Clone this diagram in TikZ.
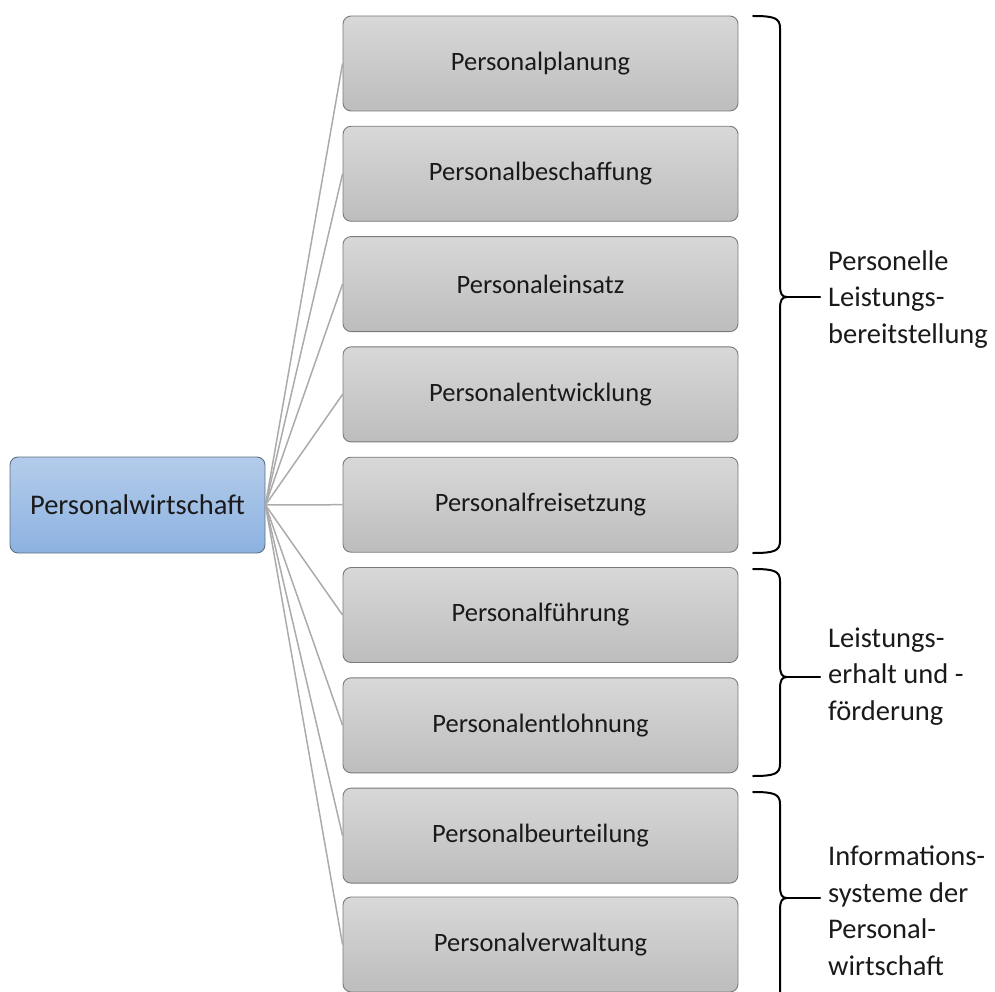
\documentclass[tikz,border=0pt]{standalone}
\usepackage{fontspec}
\setmainfont{Carlito}
\definecolor{rootTop}{HTML}{B4CCEA}
\definecolor{rootBot}{HTML}{8CB2E1}
\definecolor{rootEdge}{HTML}{5E6E82}
\definecolor{boxTop}{HTML}{D8D8D8}
\definecolor{boxBot}{HTML}{BDBDBD}
\definecolor{boxEdge}{HTML}{7A7A7A}
\definecolor{linkGray}{HTML}{ABABAB}
\definecolor{ink}{HTML}{1A1A1A}
\begin{document}
\begin{tikzpicture}[x=1pt,y=-1pt,
  rootbox/.style={draw=rootEdge, line width=0.9pt, rounded corners=8pt,
    top color=rootTop, bottom color=rootBot, minimum width=255pt,
    minimum height=96pt, inner sep=0pt, text=ink,
    font=\fontsize{28.5}{34}\selectfont},
  areabox/.style={draw=boxEdge, line width=0.9pt, rounded corners=8pt,
    top color=boxTop, bottom color=boxBot, minimum width=395pt,
    minimum height=95pt, inner sep=0pt, text=ink,
    font=\fontsize{26.5}{32}\selectfont},
  link/.style={draw=linkGray, line width=1.5pt},
  bracket/.style={draw=black, line width=2pt, line cap=round, line join=round},
  grouplabel/.style={anchor=base west, align=left, inner sep=0pt, text=ink,
    font=\fontsize{28.5}{36.5}\selectfont}]
\useasboundingbox (0,0) rectangle (995,992);

% root
\node[rootbox] (root) at (137.5,505) {Personalwirtschaft};

% functional areas
\node[areabox] (a1) at (540.5,63.5)  {Personalplanung};
\node[areabox] (a2) at (540.5,173.8) {Personalbeschaffung};
\node[areabox] (a3) at (540.5,284.1) {Personaleinsatz};
\node[areabox] (a4) at (540.5,394.4) {Personalentwicklung};
\node[areabox] (a5) at (540.5,504.7) {Personalfreisetzung};
\node[areabox] (a6) at (540.5,615.0) {Personalführung};
\node[areabox] (a7) at (540.5,725.3) {Personalentlohnung};
\node[areabox] (a8) at (540.5,835.6) {Personalbeurteilung};
\node[areabox] (a9) at (540.5,944.5) {Personalverwaltung};

% connectors
\foreach \k in {1,...,9}
  \draw[link] (root.east) -- (a\k.west);

% brackets
\draw[bracket] (753,16) .. controls (774,16) and (780,18) .. (780,28)
  -- (780,285) .. controls (780,294) and (782,297) .. (787,297)
  .. controls (782,297) and (780,300) .. (780,309)
  -- (780,541) .. controls (780,551) and (774,553) .. (753,553);
\draw[bracket] (787,297) -- (820,297);

\draw[bracket] (753,569) .. controls (774,569) and (780,571) .. (780,581)
  -- (780,665) .. controls (780,674) and (782,677) .. (787,677)
  .. controls (782,677) and (780,680) .. (780,689)
  -- (780,764) .. controls (780,774) and (774,776) .. (753,776);
\draw[bracket] (787,677) -- (820,677);

\draw[bracket] (753,792) .. controls (774,792) and (780,794) .. (780,804)
  -- (780,886) .. controls (780,895) and (782,898) .. (787,898)
  .. controls (782,898) and (780,901) .. (780,910)
  -- (780,1010);
\draw[bracket] (787,898) -- (820,898);

% group labels (anchored at the baseline of their last line)
\node[grouplabel] (g1) at (828,343) {Personelle\\Leistungs-\\bereitstellung};
\node[grouplabel] (g2) at (828,720) {Leistungs-\\erhalt und -\\förderung};
\node[grouplabel] (g3) at (828,975) {Informations-\\systeme der\\Personal-\\wirtschaft};
\end{tikzpicture}
\end{document}
